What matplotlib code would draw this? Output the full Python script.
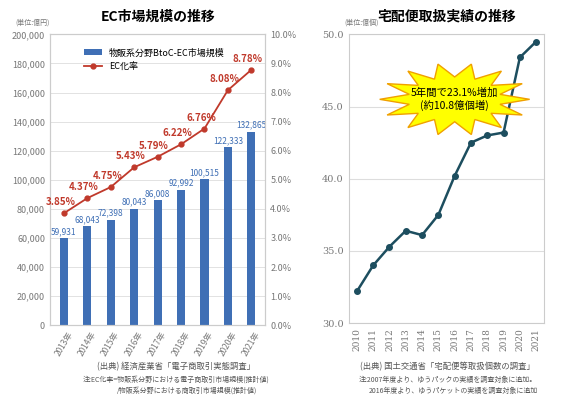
import numpy as np
import matplotlib.pyplot as plt
from matplotlib.patches import Polygon

plt.rcParams['font.family'] = ['Noto Sans CJK JP', 'DejaVu Sans']

ec_years = ['2013年', '2014年', '2015年', '2016年', '2017年', '2018年', '2019年', '2020年', '2021年']
ec_market = [59931, 68043, 72398, 80043, 86008, 92992, 100515, 122333, 132865]
ec_rate = [3.85, 4.37, 4.75, 5.43, 5.79, 6.22, 6.76, 8.08, 8.78]

parcel_years = ['2010', '2011', '2012', '2013', '2014', '2015', '2016', '2017', '2018', '2019', '2020', '2021']
parcels = [32.2, 34.0, 35.3, 36.4, 36.1, 37.5, 40.2, 42.5, 43.0, 43.2, 48.4, 49.5]

fig = plt.figure(figsize=(5.67, 4.04), dpi=100)
grey = '#777777'

# left chart
ax = fig.add_axes([0.088, 0.195, 0.38, 0.72])
x = np.arange(len(ec_years))
ax.bar(x, ec_market, width=0.35, color='#3f6fb5', label='物販系分野BtoC-EC市場規模')
for xi, v in zip(x, ec_market):
    ax.text(xi, v + 1500, f'{v:,}', ha='center', va='bottom', fontsize=6, color='#3f6fb5')
ax.set_ylim(0, 200000)
ax.set_yticks(range(0, 200001, 20000))
ax.set_yticklabels([f'{v:,}' for v in range(0, 200001, 20000)], fontsize=6.5, color=grey)
ax.set_xlim(-0.6, len(x) - 0.4)
ax.set_xticks(x)
ax.set_xticklabels(ec_years, rotation=60, fontsize=6, color=grey)
ax.grid(axis='y', color='#dddddd', lw=0.6)
ax.set_axisbelow(True)
ax.text(-0.16, 1.035, '(単位:億円)', transform=ax.transAxes, fontsize=5, color=grey, ha='left')
ax.set_title('EC市場規模の推移', fontsize=10, fontweight='bold', pad=10)

ax2 = ax.twinx()
ax2.plot(x, ec_rate, '-o', color='#c0392b', ms=3.5, lw=1.3, label='EC化率')
for xi, v in zip(x, ec_rate):
    ax2.text(xi - 0.15, v + 0.2, f'{v:.2f}%', ha='center', va='bottom', fontsize=7, color='#c0392b', fontweight='bold')
ax2.set_ylim(0, 10)
ax2.set_yticks(range(0, 11))
ax2.set_yticklabels([f'{v:.1f}%' for v in range(0, 11)], fontsize=6.5, color=grey)
for a in (ax, ax2):
    for s in a.spines.values():
        s.set_color('#cccccc')
    a.tick_params(length=0)
h1, l1 = ax.get_legend_handles_labels()
h2, l2 = ax2.get_legend_handles_labels()
ax.legend(h1 + h2, l1 + l2, loc='upper left', bbox_to_anchor=(0.12, 0.98), fontsize=6.5, frameon=False)

fig.text(0.31, 0.085, '(出典) 経済産業省「電子商取引実態調査」', ha='center', fontsize=6, color='#555555')
fig.text(0.31, 0.055, '注:EC化率=物販系分野における電子商取引市場規模(推計値)', ha='center', fontsize=5, color='#555555')
fig.text(0.33, 0.028, '/物販系分野における商取引市場規模(推計値)', ha='center', fontsize=5, color='#555555')

# right chart
bx = fig.add_axes([0.615, 0.2, 0.345, 0.715])
px = np.arange(len(parcel_years))
bx.plot(px, parcels, '-o', color='#1d4e5f', lw=1.8, ms=4)
bx.set_ylim(30, 50)
bx.set_yticks([30, 35, 40, 45, 50])
bx.set_yticklabels(['30.0', '35.0', '40.0', '45.0', '50.0'], fontsize=7, color=grey, family='DejaVu Serif')
bx.set_xlim(-0.5, len(px) - 0.5)
bx.set_xticks(px)
bx.set_xticklabels(parcel_years, rotation=90, fontsize=6.5, color=grey, family='DejaVu Serif')
bx.grid(axis='y', color='#dddddd', lw=0.8)
bx.tick_params(length=0)
for s in bx.spines.values():
    s.set_color('#cccccc')
bx.set_title('宅配便取扱実績の推移', fontsize=10, fontweight='bold', pad=10)
bx.text(-0.02, 1.035, '(単位:億個)', transform=bx.transAxes, fontsize=5, color=grey)

# starburst
cx, cy = 6.0, 45.5
ang = np.linspace(0, 2 * np.pi, 29)[:-1]
rad = np.where(np.arange(28) % 2 == 0, 1.0, 0.62)
pts = np.column_stack([cx + 4.6 * rad * np.cos(ang), cy + 2.5 * rad * np.sin(ang)])
bx.add_patch(Polygon(pts, closed=True, facecolor='#ffff00', edgecolor='#f0a000', lw=1, zorder=5))
bx.text(cx, cy, '5年間で23.1%増加\n(約10.8億個増)', ha='center', va='center', fontsize=7.5, zorder=6)

fig.text(0.79, 0.085, '(出典) 国土交通省「宅配便等取扱個数の調査」', ha='center', fontsize=6, color='#555555')
fig.text(0.79, 0.055, '注:2007年度より、ゆうパックの実績を調査対象に追加。', ha='center', fontsize=5, color='#555555')
fig.text(0.80, 0.028, '2016年度より、ゆうパケットの実績を調査対象に追加', ha='center', fontsize=5, color='#555555')

fig.savefig('out.png', dpi=100)
